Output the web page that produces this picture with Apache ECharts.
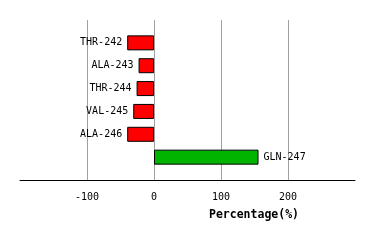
<!DOCTYPE html>
<html><head><meta charset="utf-8">
<script src="https://cdn.jsdelivr.net/npm/echarts@6/dist/echarts.min.js"></script>
<style>html,body{margin:0;padding:0;background:#fff}#c{width:374px;height:240px}</style>
</head><body><div id="c"></div>
<script>
const categories = ['THR-242','ALA-243','THR-244','VAL-245','ALA-246','GLN-247'];
const values = [-40, -23, -26, -31, -40, 156];
const tickValues = [-100, 0, 100, 200];
const axisTitle = 'Percentage(%)';

const font = 'DejaVu Sans Mono';
const cats = [''].concat(categories, ['']);
const data = [null].concat(values.map((v, i) => ({
  value: v,
  itemStyle: { color: v < 0 ? '#ff0000' : '#00b400' },
  label: { position: v < 0 ? 'left' : 'right', formatter: categories[i] }
})), [null]);

const chart = echarts.init(document.getElementById('c'), null, {renderer: 'canvas'});
chart.setOption({
  animation: false,
  grid: { left: 20, right: 19, top: 20, bottom: 60 },
  xAxis: {
    type: 'value', min: -200, max: 300, interval: 100,
    axisLine: { show: true, onZero: false, lineStyle: { color: '#000', width: 1 } },
    axisTick: { show: false },
    axisLabel: {
      color: '#000', fontFamily: font, fontSize: 10, margin: 12,
      showMinLabel: false, showMaxLabel: false,
      formatter: v => tickValues.includes(v) ? String(v) : ''
    },
    splitLine: { show: true, showMinLine: false, showMaxLine: false, lineStyle: { color: '#a0a0a0', width: 1 } }
  },
  yAxis: {
    type: 'category', inverse: true, boundaryGap: false, data: cats,
    axisLine: { show: false }, axisTick: { show: false }, axisLabel: { show: false },
    splitLine: { show: false }
  },
  series: [{
    type: 'bar', data: data, barWidth: 15,
    itemStyle: { borderColor: '#000', borderWidth: 1 },
    label: { show: true, color: '#000', fontFamily: font, fontSize: 10, distance: 5 }
  }],
  graphic: [{
    type: 'text', x: 254, y: 215,
    style: { text: axisTitle, font: 'bold 11.5px "DejaVu Sans Mono"', fill: '#000', align: 'center', verticalAlign: 'middle' }
  }]
});
</script></body></html>
